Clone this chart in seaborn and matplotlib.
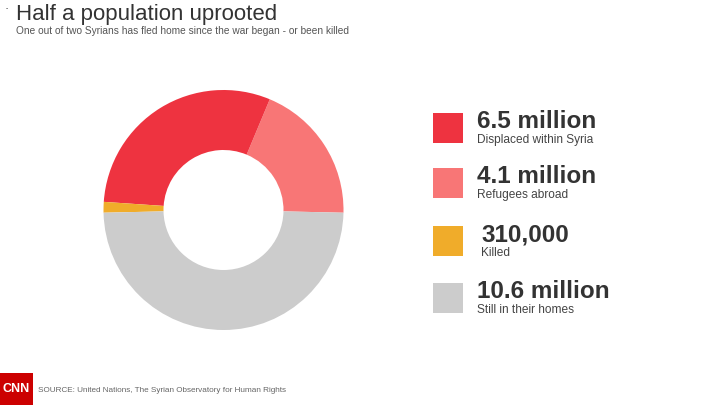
import numpy as np
import pandas as pd
import seaborn as sns
import matplotlib.pyplot as plt
from matplotlib.patches import Rectangle

# data (millions of people)
groups = ["Displaced within Syria", "Refugees abroad", "Killed", "Still in their homes"]
values = [6.5, 4.1, 0.31, 10.6]
big_labels = ["6.5 million", "4.1 million", "310,000", "10.6 million"]
colors = ["#EE3340", "#F87676", "#F0AC2A", "#CCCCCC"]

df = pd.DataFrame({"group": groups, "value": values, "label": big_labels, "color": colors})

sns.set_theme(style="white")
plt.rcParams['font.family'] = ['Liberation Sans', 'DejaVu Sans']

fig = plt.figure(figsize=(7.2, 4.05), dpi=100)
fig.patch.set_facecolor("white")

# donut: light red first from 3 o'clock, counter-clockwise
order = [1, 0, 2, 3]
ax = fig.add_axes([103.5 / 720, 75 / 405, 240 / 720, 240 / 405])
ax.pie(df["value"].iloc[order], colors=df["color"].iloc[order], startangle=-1.3,
       counterclock=True, radius=1, wedgeprops=dict(width=0.5, linewidth=0))
ax.set_xlim(-1, 1)
ax.set_ylim(-1, 1)
ax.set_aspect("equal")
ax.axis("off")

# title
fig.text(16 / 720, 1 - 20 / 405, "Half a population uprooted", fontsize=16, color="#333333")
fig.text(16 / 720, 1 - 34 / 405, "One out of two Syrians has fled home since the war began - or been killed",
         fontsize=7.3, color="#555555")
fig.text(4 / 720, 1 - 12 / 405, "·", fontsize=9, color="#333333")

# legend
sq_top = [113, 168, 226, 283]
txt_x = [477, 477, 481, 477]
for i, row in df.iterrows():
    top = sq_top[i]
    fig.patches.append(Rectangle((433 / 720, 1 - (top + 30) / 405), 30 / 720, 30 / 405,
                                 transform=fig.transFigure, color=row["color"], lw=0))
    fig.text(txt_x[i] / 720, 1 - (top + 15) / 405, row["label"], fontsize=17.5,
             fontweight="bold", color="#333333")
    fig.text(txt_x[i] / 720, 1 - (top + 30) / 405, row["group"], fontsize=8.6, color="#444444")

# footer
fig.patches.append(Rectangle((0, 0), 33 / 720, 32 / 405, transform=fig.transFigure,
                             color="#CC0000", lw=0))
fig.text(16.5 / 720, 16 / 405, "CNN", fontsize=9, fontweight="bold", color="white",
         ha="center", va="center")
fig.text(38 / 720, 13 / 405, "SOURCE: United Nations, The Syrian Observatory for Human Rights",
         fontsize=5.85, color="#666666")

fig.savefig("out.png", dpi=100)
